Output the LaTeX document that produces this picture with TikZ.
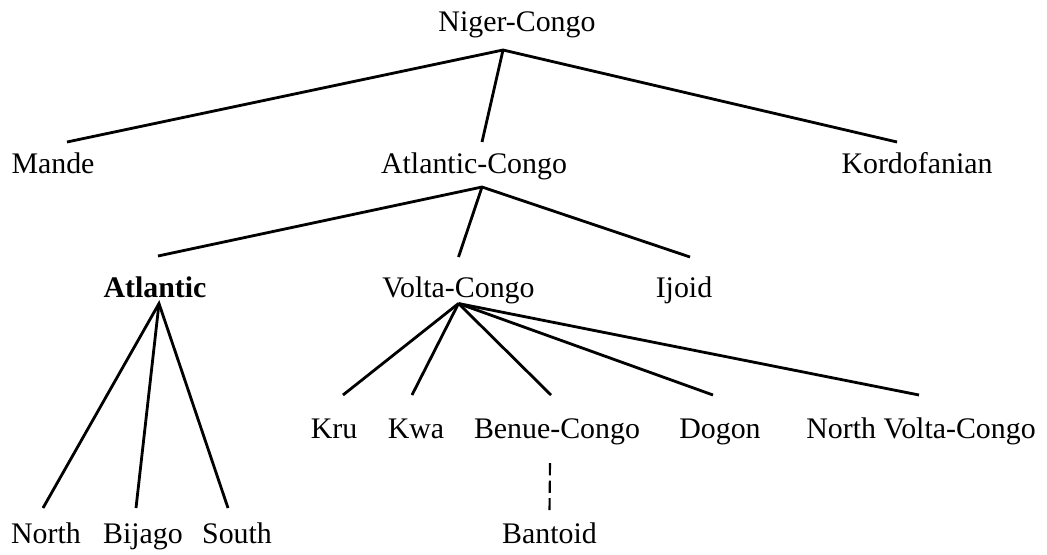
\documentclass[tikz,border=0pt]{standalone}
\usepackage{fontspec}
\setmainfont{Liberation Serif}
\begin{document}
\begin{tikzpicture}[lang/.style={anchor=base,inner sep=0pt,outer sep=0pt,text height=0.41cm,text depth=0.13cm,font=\fontsize{17pt}{20pt}\selectfont},
    branch/.style={line width=1.6pt},
    uncertain/.style={line width=1.2pt,dash pattern=on 7pt off 3pt}]
      \useasboundingbox (0,0) rectangle (20.94,-11.08);

      \node[lang] (nc) at (10.34,-0.62) {Niger-Congo};

      \node[lang] (mande) at (1.06,-3.46) {Mande};
      \node[lang] (ac) at (9.48,-3.46) {Atlantic-Congo};
      \node[lang] (kordo) at (18.34,-3.46) {Kordofanian};

      \node[lang,font=\fontsize{17pt}{20pt}\selectfont\bfseries] (atl) at (3.10,-5.94) {Atlantic};
      \node[lang] (vc) at (9.17,-5.94) {Volta-Congo};
      \node[lang] (ijoid) at (13.68,-5.94) {Ijoid};

      \node[lang] (kru) at (6.68,-8.76) {Kru};
      \node[lang] (kwa) at (8.32,-8.76) {Kwa};
      \node[lang] (benue) at (11.14,-8.76) {Benue-Congo};
      \node[lang] (dogon) at (14.40,-8.76) {Dogon};
      \node[lang] (nvc) at (18.42,-8.76) {North Volta-Congo};

      \node[lang] (north) at (0.92,-10.86) {North};
      \node[lang] (bijago) at (2.86,-10.86) {Bijago};
      \node[lang] (south) at (4.74,-10.86) {South};
      \node[lang] (bantoid) at (10.99,-10.86) {Bantoid};

      % Niger-Congo
      \draw[branch] ([xshift=0.28cm,yshift=0.21cm]mande.north) -- ([xshift=-0.28cm,yshift=-0.25cm]nc.south) -- ([xshift=-0.40cm,yshift=0.21cm]kordo.north);
      \draw[branch] ([xshift=-0.28cm,yshift=-0.25cm]nc.south) -- ([xshift=0.16cm,yshift=0.21cm]ac.north);

      % Atlantic-Congo
      \draw[branch] ([xshift=0.06cm,yshift=0.41cm]atl.north) -- ([xshift=0.16cm,yshift=-0.15cm]ac.south) -- ([xshift=0.12cm,yshift=0.39cm]ijoid.north);
      \draw[branch] ([xshift=0.16cm,yshift=-0.15cm]ac.south) -- ([yshift=0.39cm]vc.north);

      % Atlantic
      \draw[branch] ([xshift=-0.06cm,yshift=0.29cm]north.north) -- ([xshift=0.08cm]atl.south) -- ([xshift=-0.18cm,yshift=0.29cm]south.north);
      \draw[branch] ([xshift=0.08cm]atl.south) -- ([xshift=-0.14cm,yshift=0.29cm]bijago.north);

      % Volta-Congo
      \draw[branch] (vc.south) -- ([xshift=0.18cm,yshift=0.45cm]kru.north);
      \draw[branch] (vc.south) -- ([xshift=-0.08cm,yshift=0.45cm]kwa.north);
      \draw[branch] (vc.south) -- ([xshift=-0.12cm,yshift=0.45cm]benue.north);
      \draw[branch] (vc.south) -- ([xshift=-0.14cm,yshift=0.45cm]dogon.north);
      \draw[branch] (vc.south) -- ([xshift=-0.04cm,yshift=0.45cm]nvc.north);

      \draw[uncertain] ([xshift=-0.14cm,yshift=-0.37cm]benue.south) -- ([yshift=0.25cm]bantoid.north);
    \end{tikzpicture}
\end{document}
